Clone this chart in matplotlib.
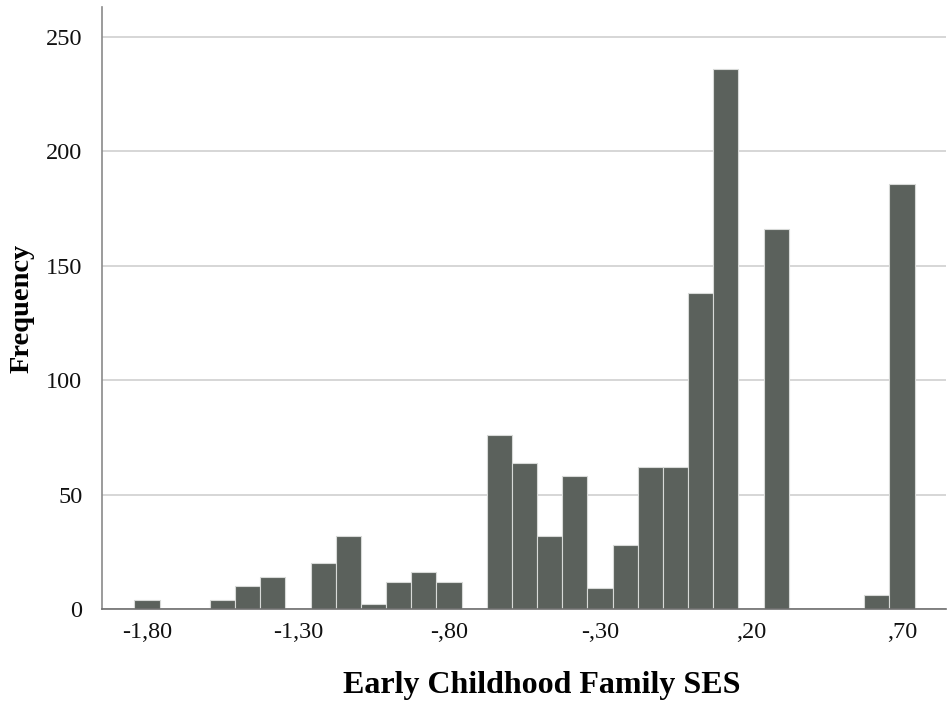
import matplotlib
matplotlib.use("Agg")
import matplotlib.pyplot as plt

# Data: histogram bin centers (SES value) and frequencies
bin_centers = [-1.80, -1.55, -1.4667, -1.3833, -1.2167, -1.1333, -1.05, -0.9667,
               -0.8833, -0.80, -0.6333, -0.55, -0.4667, -0.3833, -0.30, -0.2167,
               -0.1333, -0.05, 0.0333, 0.1167, 0.2833, 0.6167, 0.70]
frequencies = [4, 4, 10, 14, 20, 32, 2, 12,
               16, 12, 76, 64, 32, 58, 9, 28,
               62, 62, 138, 236, 166, 6, 186]
bin_width = 1 / 12

x_ticks = [-1.80, -1.30, -0.80, -0.30, 0.20, 0.70]
x_tick_labels = ["-1,80", "-1,30", "-,80", "-,30", ",20", ",70"]
y_ticks = [0, 50, 100, 150, 200, 250]
x_title = "Early Childhood Family SES"
y_title = "Frequency"

plt.rcParams['font.family'] = ['Liberation Serif', 'DejaVu Serif']

fig = plt.figure(figsize=(9.48, 7.07), dpi=100)
ax = fig.add_axes([0.1073, 0.1386, 0.8907, 0.851])

ax.bar(bin_centers, frequencies, width=bin_width, color='#5b615c',
       edgecolor='#d8dad8', linewidth=0.8, zorder=2)

ax.set_xlim(-1.95, 0.846)
ax.set_ylim(0, 263)
ax.set_xticks(x_ticks)
ax.set_xticklabels(x_tick_labels)
ax.set_yticks(y_ticks)
ax.tick_params(axis='both', length=0, labelsize=17.5, colors='#111111')
ax.tick_params(axis='x', pad=9)
ax.tick_params(axis='y', pad=14)

ax.yaxis.grid(True, color='#cfcfcf', linewidth=1.2, zorder=0)
ax.set_axisbelow(True)
for s in ['top', 'right']:
    ax.spines[s].set_visible(False)
ax.spines['left'].set_color('#8a8a8a')
ax.spines['bottom'].set_color('#6f6f6f')
ax.spines['left'].set_linewidth(1.2)
ax.spines['bottom'].set_linewidth(1.2)
ax.spines['left'].set_zorder(4)
ax.spines['bottom'].set_zorder(4)

fig.text(542 / 948, 1 - 685 / 707, x_title, ha='center', va='center',
         fontsize=23, fontweight='bold')
fig.text(22 / 948, 1 - 308 / 707, y_title, ha='center', va='center',
         rotation=90, fontsize=20.5, fontweight='bold')

fig.savefig('out.png', dpi=100)
